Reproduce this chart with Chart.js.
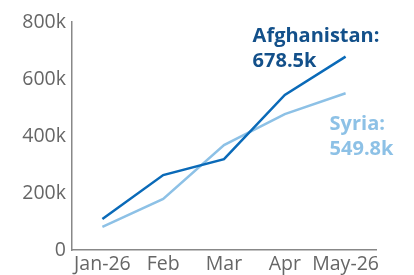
<!DOCTYPE html>
<html>
<head>
<meta charset="utf-8">
<script src="https://cdn.jsdelivr.net/npm/chart.js@4"></script>
<style>
  html, body { margin: 0; padding: 0; background: #fff; }
  #wrap { width: 414px; height: 275px; }
</style>
</head>
<body>
<div id="wrap"><canvas id="chart"></canvas></div>
<script>
// Datos
const months = ['Jan-26', 'Feb', 'Mar', 'Apr', 'May-26'];
const afghanistan = [109, 263, 319, 544, 678.5];
const syria = [81, 179, 368, 477, 549.8];
const yTicks = [0, 200, 400, 600, 800];

// Etiquetas al final de cada serie
const endLabels = {
    id: 'endLabels',
    afterDatasetsDraw(chart) {
        const ctx = chart.ctx;
        const pa = chart.getDatasetMeta(0).data[4];
        const ps = chart.getDatasetMeta(1).data[4];
        ctx.save();
        ctx.font = 'bold 20px "Open Sans"';
        ctx.textAlign = 'left';
        ctx.textBaseline = 'alphabetic';
        ctx.fillStyle = '#13508a';
        ctx.fillText('Afghanistan:', pa.x - 93, pa.y - 15);
        ctx.fillText(afghanistan[4].toFixed(1) + 'k', pa.x - 93, pa.y + 10);
        ctx.fillStyle = '#8dc1e6';
        ctx.fillText('Syria:', ps.x - 16, ps.y + 37);
        ctx.fillText(syria[4].toFixed(1) + 'k', ps.x - 16, ps.y + 62);
        ctx.restore();
    }
};

new Chart(document.getElementById('chart'), {
    type: 'line',
    data: {
        labels: months,
        datasets: [
            {
                label: 'Afghanistan',
                data: afghanistan,
                borderColor: '#0a6ab8',
                borderWidth: 2.5,
                pointRadius: 0,
                tension: 0
            },
            {
                label: 'Syria',
                data: syria,
                borderColor: '#8dc1e6',
                borderWidth: 2.5,
                pointRadius: 0,
                tension: 0
            }
        ]
    },
    options: {
        responsive: true,
        maintainAspectRatio: false,
        animation: false,
        layout: { padding: { top: 22, right: 38, left: 0, bottom: 0 } },
        plugins: {
            legend: { display: false },
            tooltip: { enabled: false }
        },
        scales: {
            x: {
                offset: true,
                grid: { display: false, drawTicks: false },
                border: { color: '#888', width: 1.5 },
                ticks: {
                    color: '#666',
                    font: { family: 'Open Sans', size: 19.5 },
                    padding: 3,
                    maxRotation: 0,
                    autoSkip: false
                },
                afterFit: s => { s.height = 25; }
            },
            y: {
                min: 0,
                max: 800,
                afterBuildTicks: s => { s.ticks = yTicks.map(v => ({ value: v })); },
                grid: { display: false, drawTicks: false },
                border: { color: '#888', width: 1.5 },
                ticks: {
                    color: '#666',
                    font: { family: 'Open Sans', size: 19.5 },
                    padding: 6,
                    callback: v => v === 0 ? '0' : v + 'k'
                },
                afterFit: s => { s.width = 72; }
            }
        }
    },
    plugins: [endLabels]
});
</script>
</body>
</html>
